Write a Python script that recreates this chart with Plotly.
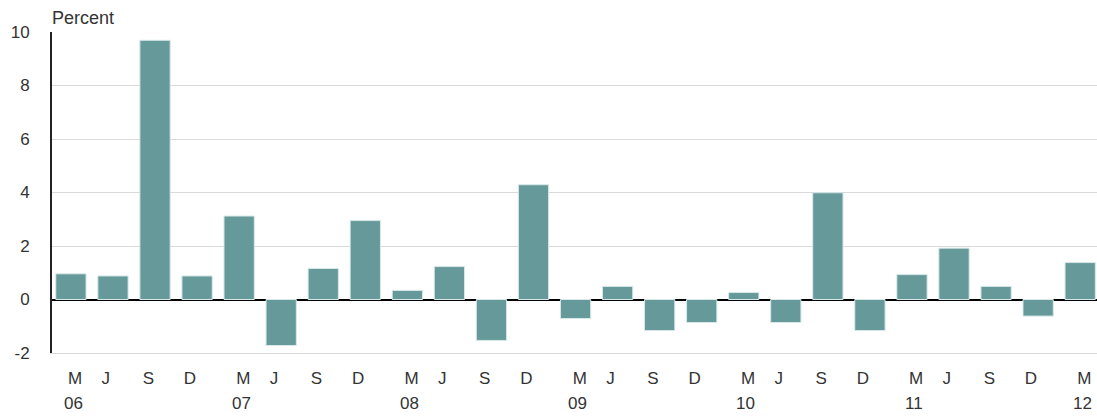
import plotly.graph_objects as go

quarters = ["M", "J", "S", "D",
            "M", "J", "S", "D",
            "M", "J", "S", "D",
            "M", "J", "S", "D",
            "M", "J", "S", "D",
            "M", "J", "S", "D",
            "M"]
years = ["06", "07", "08", "09", "10", "11", "12"]
year_positions = [0, 4, 8, 12, 16, 20, 24]
values = [0.96, 0.88, 9.69, 0.88, 3.12, -1.72,
          1.16, 2.95, 0.34, 1.23, -1.53, 4.29,
          -0.71, 0.49, -1.16, -0.86, 0.26, -0.86,
          3.99, -1.16, 0.93, 1.92, 0.49, -0.62, 1.38]
y_ticks = [-2, 0, 2, 4, 6, 8, 10]

# small horizontal nudges of the tick labels (in category units), as in the reference
label_nudge = {"M": 0.1, "J": -0.17, "S": -0.16, "D": -0.17}

x = list(range(len(values)))
tick_positions = [i + label_nudge[q] for i, q in zip(x, quarters)]
font_family = "Liberation Sans, Arial, sans-serif"
text_color = "#333333"
fsize = 17

fig = go.Figure()
fig.add_trace(go.Bar(
    x=x, y=values,
    marker=dict(color="#669999", line=dict(color="#d8e8e8", width=1)),
    width=0.72,
    hoverinfo="y",
))

annotations = []
for pos, yr in zip(year_positions, years):
    annotations.append(dict(
        x=pos + 0.05, y=0, xref="x", yref="paper",
        text=yr, showarrow=False, yanchor="middle", xanchor="center",
        yshift=-50, font=dict(family=font_family, size=fsize, color=text_color),
    ))
annotations.append(dict(
    x=0, y=1, xref="paper", yref="paper", text="Percent",
    showarrow=False, xanchor="left", yanchor="bottom", xshift=-2, yshift=2,
    font=dict(family=font_family, size=18, color=text_color),
))

fig.update_layout(
    width=1097, height=416,
    margin=dict(l=52, r=0, t=32, b=63),
    paper_bgcolor="white", plot_bgcolor="white",
    showlegend=False,
    annotations=annotations,
    font=dict(family=font_family, size=fsize, color=text_color),
)
fig.update_xaxes(
    range=[-0.45, 24.4],
    tickmode="array", tickvals=tick_positions, ticktext=quarters,
    showgrid=False, zeroline=False,
    showline=True, linecolor="#d9d9d9", linewidth=1.2,
    ticks="", ticklabelstandoff=9,
    tickfont=dict(family=font_family, size=fsize, color=text_color),
)
fig.update_yaxes(
    range=[-2, 10],
    tickmode="array", tickvals=y_ticks, ticktext=[str(v) for v in y_ticks],
    showgrid=True, gridcolor="#d9d9d9", gridwidth=1.2,
    zeroline=True, zerolinecolor="black", zerolinewidth=2,
    showline=True, linecolor="#222222", linewidth=2,
    ticks="", ticklabelstandoff=17,
    tickfont=dict(family=font_family, size=fsize, color=text_color),
)

fig.write_html(
    "out.html",
    config={"displayModeBar": False},
    post_script="document.body.style.margin='0';document.body.style.overflow='hidden';",
)
